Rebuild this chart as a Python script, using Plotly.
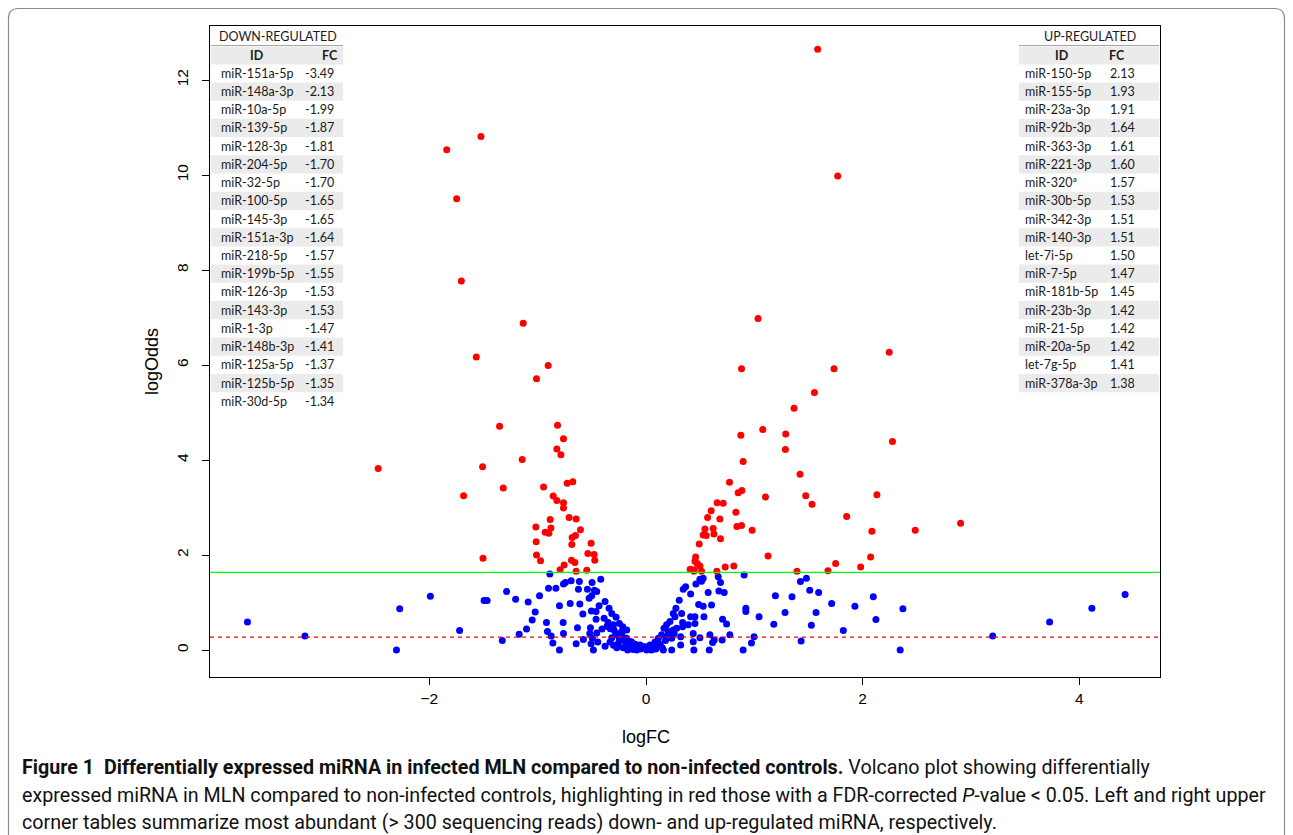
import plotly.graph_objects as go

# ---------------- data ----------------
red_left_x = [-1.524, -1.840, -1.748, -1.705, -1.134, -1.567, -0.903, -1.011, -1.352, -0.817,
              -0.762, -0.823, -0.786, -1.143, -2.473, -1.509, -0.728, -0.676, -1.318, -1.684,
              -0.946, -0.857, -0.823, -0.762, -0.762, -0.710, -0.645, -0.885, -1.017, -0.878,
              -0.931, -0.897, -0.605, -0.651, -0.682, -0.685, -1.014, -0.507, -0.537, -0.479,
              -0.473, -1.011, -0.974, -1.505, -0.688, -0.657, -0.756, -0.793, -0.645, -0.547]
red_left_y = [10.81, 10.53, 9.50, 7.77, 6.88, 6.17, 5.99, 5.71, 4.71, 4.73,
              4.45, 4.23, 4.11, 4.01, 3.82, 3.86, 3.51, 3.54, 3.41, 3.25,
              3.43, 3.24, 3.15, 3.10, 2.99, 2.79, 2.76, 2.75, 2.59, 2.57,
              2.48, 2.46, 2.53, 2.41, 2.37, 2.22, 2.28, 2.25, 2.03, 2.01,
              1.89, 2.00, 1.88, 1.93, 1.89, 1.84, 1.79, 1.69, 1.66, 1.68]

red_right_x = [1.585, 1.770, 1.035, 2.246, 0.882, 1.736, 1.555, 1.367, 1.078, 1.290,
               0.876, 2.276, 1.287, 0.897, 1.422, 0.771, 0.885, 0.851, 2.132, 1.103,
               1.475, 1.533, 0.657, 0.713, 0.602, 0.830, 0.569, 0.682, 1.853, 0.839,
               0.882, 0.544, 0.620, 0.980, 2.486, 2.086, 2.905, 0.528, 0.556, 0.627,
               0.688, 0.491, 1.127, 2.074, 0.458, 0.452, 0.473, 0.498, 0.408, 0.445,
               0.513, 0.442, 0.654, 0.731, 0.811, 1.751, 1.982, 1.680, 1.394]
red_right_y = [12.65, 9.98, 6.98, 6.27, 5.92, 5.92, 5.42, 5.09, 4.64, 4.55,
               4.52, 4.39, 4.22, 3.97, 3.70, 3.53, 3.36, 3.31, 3.27, 3.22,
               3.25, 3.07, 3.10, 3.09, 2.93, 2.90, 2.79, 2.76, 2.81, 2.60,
               2.62, 2.55, 2.56, 2.52, 2.52, 2.50, 2.67, 2.42, 2.41, 2.44,
               2.34, 2.23, 1.98, 1.96, 1.96, 1.87, 1.82, 1.77, 1.70, 1.69,
               1.66, 1.66, 1.66, 1.75, 1.77, 1.82, 1.75, 1.67, 1.66]

blue_x = [-3.680, -3.149, -2.304, -2.274, -1.991, -1.721, -1.495, -1.467, -1.327, -1.287,
          -1.204, -1.171, -1.103, -1.088, -1.051, -1.023, -0.983,
          -0.888, -0.900, -0.832, -0.762, -0.744, -0.691, -0.615, -0.624, -0.498, -0.418,
          -0.541, -0.476, -0.455, -0.501, -0.525, -0.799, -0.700, -0.611, -0.378, -0.433,
          -0.341, -0.504, -0.461, -0.583, -0.316, -0.276, -0.461, -0.387, -0.350, -0.246,
          -0.215, -0.919, -0.765, -0.633, -0.513, -0.406, -0.295, -0.178, -0.910, -0.762,
          -0.519, -0.455, -0.876, -0.578, -0.495, -0.316, -0.246, -0.178, -0.860, -0.645,
          -0.507, -0.445, -0.378, -0.255, -0.184, -0.799, -0.486, -0.169, -0.117, -0.086,
          -0.025, 0.006, -0.132, -0.224, -0.264, -0.332, -0.301,
          -0.360, -0.330, -0.280, -0.220, -0.200, -0.150, -0.100, -0.060, -0.050, -0.140,
          -0.210, -0.270, -0.300, -0.120,
          -0.055, -0.009, 0.037, 0.083, 0.114, 0.144, 0.166, 0.190, 0.221, 0.206,
          0.237, 0.252, 0.283, 0.267, 0.252, 0.276, 0.329, 0.307, 0.344, 0.366,
          0.412, 0.461, 0.498, 0.513, 0.338, 0.338, 0.390, 0.412, 0.452, 0.452,
          0.436, 0.320, 0.320, 0.160, 0.237, 0.436, 0.442, 0.498, 0.486, 0.528,
          0.535, 0.574, 0.605, 0.590, 0.615, 0.630, 0.584, 0.667, 0.688, 0.673,
          0.722, 0.707, 0.744, 0.703, 0.774, 0.906, 0.922, 0.922, 1.044, 0.998,
          0.974, 0.897, 0.528,
          0.020, 0.060, 0.100, 0.130, 0.050, 0.090, 0.180, 0.200, 0.260, 0.150,
          1.180, 1.195, 1.284, 1.348, 1.426, 1.481, 1.512, 1.594, 1.570, 1.527,
          1.432, 1.714, 1.822, 1.929, 2.099, 2.123, 2.372, 2.347, 3.201, 3.727,
          4.117, 4.424]
blue_y = [0.59, 0.295, 0.00, 0.87, 1.13, 0.41, 1.04, 1.04, 0.20, 1.23,
          1.07, 0.33, 0.44, 1.01, 0.63, 0.80, 1.14,
          1.60, 1.30, 1.30, 1.39, 1.42, 1.46, 1.44, 1.28, 1.42, 1.49,
          1.28, 1.26, 1.23, 1.14, 1.09, 0.93, 0.98, 0.97, 1.02, 0.93,
          0.88, 0.82, 0.81, 0.76, 0.77, 0.69, 0.65, 0.67, 0.58, 0.56,
          0.49, 0.58, 0.58, 0.47, 0.47, 0.44, 0.42, 0.42, 0.39, 0.35,
          0.35, 0.36, 0.295, 0.22, 0.25, 0.26, 0.25, 0.25, 0.15, 0.13,
          0.13, 0.17, 0.08, 0.14, 0.11, 0.00, 0.00, 0.00, 0.07, 0.00,
          0.07, 0.00, 0.17, 0.39, 0.32, 0.17, 0.53,
          0.50, 0.45, 0.36, 0.30, 0.20, 0.18, 0.12, 0.05, 0.02, 0.06,
          0.05, 0.05, 0.10, 0.01,
          0.105, 0.07, 0.105, 0.17, 0.25, 0.32, 0.46, 0.53, 0.60, 0.39,
          0.25, 0.42, 0.46, 0.70, 0.77, 0.88, 0.77, 1.05, 1.28, 1.33,
          1.18, 1.39, 1.49, 1.45, 0.58, 0.49, 0.53, 0.70, 0.70, 0.56,
          0.35, 0.28, 0.105, 0.00, 0.00, 0.175, 0.00, 0.26, 0.96, 0.92,
          0.70, 1.21, 0.95, 0.32, 0.16, 0.21, 0.00, 1.54, 1.42, 1.24,
          1.21, 0.65, 0.55, 0.21, 0.32, 1.58, 0.88, 0.81, 0.70, 0.28,
          0.15, 0.00, 1.51,
          0.02, 0.04, 0.08, 0.12, 0.00, 0.02, 0.20, 0.30, 0.35, 0.05,
          0.54, 1.14, 0.79, 1.12, 1.44, 1.51, 1.26, 1.21, 0.79, 0.52,
          0.19, 0.98, 0.41, 0.92, 1.12, 0.64, 0.87, 0.00, 0.295, 0.59,
          0.88, 1.17]

fdr_threshold = 1.636
dashed_threshold = 0.27

x_ticks = [-2, 0, 2, 4]
x_ticktext = ["\u22122", "0", "2", "4"]
y_ticks = [0, 2, 4, 6, 8, 10, 12]

down_ids = ["miR-151a-5p", "miR-148a-3p", "miR-10a-5p", "miR-139-5p", "miR-128-3p",
            "miR-204-5p", "miR-32-5p", "miR-100-5p", "miR-145-3p", "miR-151a-3p",
            "miR-218-5p", "miR-199b-5p", "miR-126-3p", "miR-143-3p", "miR-1-3p",
            "miR-148b-3p", "miR-125a-5p", "miR-125b-5p", "miR-30d-5p"]
down_fc = ["-3.49", "-2.13", "-1.99", "-1.87", "-1.81", "-1.70", "-1.70", "-1.65", "-1.65",
           "-1.64", "-1.57", "-1.55", "-1.53", "-1.53", "-1.47", "-1.41", "-1.37", "-1.35", "-1.34"]
up_ids = ["miR-150-5p", "miR-155-5p", "miR-23a-3p", "miR-92b-3p", "miR-363-3p",
          "miR-221-3p", "miR-320\u00aa", "miR-30b-5p", "miR-342-3p", "miR-140-3p",
          "let-7i-5p", "miR-7-5p", "miR-181b-5p", "miR-23b-3p", "miR-21-5p",
          "miR-20a-5p", "let-7g-5p", "miR-378a-3p"]
up_fc = ["2.13", "1.93", "1.91", "1.64", "1.61", "1.60", "1.57", "1.53", "1.51", "1.51",
         "1.50", "1.47", "1.45", "1.42", "1.42", "1.42", "1.41", "1.38"]

caption_lines = [
    "<b>Figure 1\u00a0\u00a0Differentially expressed miRNA in infected MLN compared to non-infected controls.</b> Volcano plot showing differentially",
    "expressed miRNA in MLN compared to non-infected controls, highlighting in red those with a FDR-corrected <i>P</i>-value &lt; 0.05. Left and right upper",
    "corner tables summarize most abundant (&gt; 300 sequencing reads) down- and up-regulated miRNA, respectively.",
]

# ---------------- layout geometry (pixels) ----------------
W, H = 1293, 835
PL, PR, PT, PB = 210, 1160, 26, 677


def px(xp):
    return (xp - PL) / (PR - PL)


def py(yp):
    return (PB - yp) / (PB - PT)


fig = go.Figure()
fig.add_trace(go.Scatter(x=blue_x, y=blue_y, mode="markers",
                         marker=dict(color="#0000ff", size=7, line=dict(width=0)),
                         hoverinfo="x+y", showlegend=False))
fig.add_trace(go.Scatter(x=red_left_x + red_right_x, y=red_left_y + red_right_y, mode="markers",
                         marker=dict(color="#ff0000", size=7, line=dict(width=0)),
                         hoverinfo="x+y", showlegend=False))

shapes = []
shapes.append(dict(type="line", xref="paper", yref="y", x0=0, x1=1, y0=fdr_threshold, y1=fdr_threshold,
                   line=dict(color="#00ff00", width=1.3)))
shapes.append(dict(type="line", xref="paper", yref="y", x0=0, x1=1, y0=dashed_threshold, y1=dashed_threshold,
                   line=dict(color="#ff0000", width=1.3, dash="4px,4px")))

annotations = []
font_tab = "Lato, 'Open Sans', sans-serif"
TAB_SIZE = 12.5
ROW0, STEP = 73.3, 18.22


def add_table(x0, x1, title, title_x, id_hx, fc_hx, id_x, fc_x, ids, fcs, bottom):
    shapes.append(dict(type="rect", xref="paper", yref="paper", x0=px(x0), x1=px(x1),
                       y0=py(bottom), y1=py(PT + 0.5), fillcolor="white", line=dict(width=0), layer="above"))
    shapes.append(dict(type="line", xref="paper", yref="paper", x0=px(x0), x1=px(x1),
                       y0=py(45.5), y1=py(45.5), line=dict(color="#a6a6a6", width=1.2), layer="above"))
    shapes.append(dict(type="rect", xref="paper", yref="paper", x0=px(x0), x1=px(x1),
                       y0=py(64.5), y1=py(46.5), fillcolor="#ebebeb", line=dict(width=0), layer="above"))
    for i in range(len(ids)):
        yc = ROW0 + STEP * i
        if i % 2 == 1:
            shapes.append(dict(type="rect", xref="paper", yref="paper", x0=px(x0), x1=px(x1),
                               y0=py(yc + STEP / 2), y1=py(yc - STEP / 2), fillcolor="#ebebeb",
                               line=dict(width=0), layer="above"))
        annotations.append(dict(xref="paper", yref="paper", x=px(id_x), y=py(yc), text=ids[i],
                                showarrow=False, xanchor="left", yanchor="middle",
                                font=dict(family=font_tab, size=TAB_SIZE, color="#1a1a1a")))
        annotations.append(dict(xref="paper", yref="paper", x=px(fc_x), y=py(yc), text=fcs[i],
                                showarrow=False, xanchor="left", yanchor="middle",
                                font=dict(family=font_tab, size=TAB_SIZE, color="#1a1a1a")))
    annotations.append(dict(xref="paper", yref="paper", x=px(title_x), y=py(36.5), text=title,
                            showarrow=False, xanchor="center", yanchor="middle",
                            font=dict(family=font_tab, size=TAB_SIZE, color="#1a1a1a")))
    annotations.append(dict(xref="paper", yref="paper", x=px(id_hx), y=py(55.5), text="<b>ID</b>",
                            showarrow=False, xanchor="center", yanchor="middle",
                            font=dict(family=font_tab, size=TAB_SIZE, color="#1a1a1a")))
    annotations.append(dict(xref="paper", yref="paper", x=px(fc_hx), y=py(55.5), text="<b>FC</b>",
                            showarrow=False, xanchor="center", yanchor="middle",
                            font=dict(family=font_tab, size=TAB_SIZE, color="#1a1a1a")))


add_table(211, 343, "DOWN-REGULATED", 278, 257, 330, 219, 303, down_ids, down_fc, 412)
add_table(1019, 1159, "UP-REGULATED", 1090, 1062, 1117, 1023, 1108, up_ids, up_fc, 394)

annotations.append(dict(xref="paper", yref="paper", x=px(646), y=py(737), text="logFC", showarrow=False,
                        xanchor="center", yanchor="middle",
                        font=dict(family="Liberation Sans, Arial, sans-serif", size=18, color="black")))
annotations.append(dict(xref="paper", yref="paper", x=px(152), y=py(362), text="logOdds", showarrow=False,
                        xanchor="center", yanchor="middle", textangle=-90,
                        font=dict(family="Liberation Sans, Arial, sans-serif", size=18, color="black")))

for k, line in enumerate(caption_lines):
    annotations.append(dict(xref="paper", yref="paper", x=px(20), y=py(768 + 27 * k), text=line,
                            showarrow=False, xanchor="left", yanchor="middle", align="left",
                            font=dict(family="Roboto, sans-serif", size=19.7, color="#111111")))

bx0, bx1, by0, by1, r = 8.5, 1284.5, 8.5, 850, 10
path = (f"M {px(bx0)},{py(by1)} L {px(bx0)},{py(by0 + r)} Q {px(bx0)},{py(by0)} {px(bx0 + r)},{py(by0)} "
        f"L {px(bx1 - r)},{py(by0)} Q {px(bx1)},{py(by0)} {px(bx1)},{py(by0 + r)} L {px(bx1)},{py(by1)}")
shapes.append(dict(type="path", xref="paper", yref="paper", path=path,
                   line=dict(color="#8c8c8c", width=1.2)))

xr = [(PL - 646) / 108.3, (PR - 646) / 108.3]
yr = [(650 - PB) / 47.5, (650 - PT) / 47.5]

fig.update_layout(
    width=W, height=H, autosize=False,
    margin=dict(l=PL, r=W - PR, t=PT, b=H - PB, pad=0),
    paper_bgcolor="white", plot_bgcolor="white",
    shapes=shapes, annotations=annotations, showlegend=False,
    font=dict(family="Liberation Sans, Arial, sans-serif", size=15, color="black"),
    xaxis=dict(range=xr, tickvals=x_ticks, ticktext=x_ticktext, ticks="outside", ticklen=7,
               tickwidth=1, tickcolor="black", showgrid=False, zeroline=False, showline=True,
               linecolor="black", linewidth=1, mirror=True,
               tickfont=dict(family="Liberation Sans, Arial, sans-serif", size=15.5)),
    yaxis=dict(range=yr, tickvals=y_ticks, ticks="outside", ticklen=7, tickangle=-90,
               ticklabelstandoff=8,
               tickwidth=1, tickcolor="black", showgrid=False, zeroline=False, showline=True,
               linecolor="black", linewidth=1, mirror=True,
               tickfont=dict(family="Liberation Sans, Arial, sans-serif", size=15.5)),
)

fig.write_html("out.html", config={"displayModeBar": False},
               post_script="document.body.style.margin='0px';document.body.style.overflow='hidden';")
